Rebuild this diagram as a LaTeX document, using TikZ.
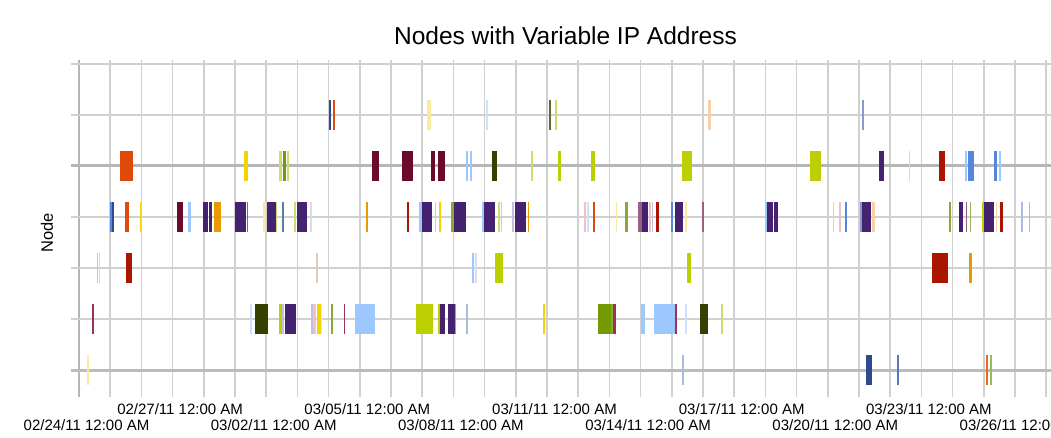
\documentclass[tikz,border=0pt]{standalone}
\usepackage{fontspec}
\setmainfont{Liberation Sans}
\usepackage{xcolor}
\usepackage{tikz}

\definecolor{gridgray}{HTML}{D0D0D0}
\definecolor{axisgray}{HTML}{B6B6B6}
\definecolor{cblue}{HTML}{5588DD}
\definecolor{cnavy}{HTML}{2B4A90}
\definecolor{cmid}{HTML}{5577BB}
\definecolor{csoft}{HTML}{AABBDD}
\definecolor{corange}{HTML}{DD4A0A}
\definecolor{ctang}{HTML}{EE6622}
\definecolor{cyellow}{HTML}{F2D400}
\definecolor{cpaleyel}{HTML}{F8EBA0}
\definecolor{cmaroon}{HTML}{6B0A2A}
\definecolor{cwine}{HTML}{993355}
\definecolor{cskyblue}{HTML}{9CC8FF}
\definecolor{cpaleblue}{HTML}{CCE0FF}
\definecolor{cpurple}{HTML}{452270}
\definecolor{clavender}{HTML}{C8BCE0}
\definecolor{camber}{HTML}{E89A00}
\definecolor{cpalegreen}{HTML}{CCDC70}
\definecolor{cgreen}{HTML}{739A00}
\definecolor{cleaf}{HTML}{88AA33}
\definecolor{csage}{HTML}{99BB55}
\definecolor{colive}{HTML}{354000}
\definecolor{colivel}{HTML}{5A6A33}
\definecolor{clime}{HTML}{BCCF00}
\definecolor{cred}{HTML}{AA1500}
\definecolor{cmauve}{HTML}{996080}
\definecolor{cpink}{HTML}{F0C0C8}
\definecolor{cpeach}{HTML}{F8D0A8}
\definecolor{cbeige}{HTML}{DDCCBB}
\definecolor{cslate}{HTML}{8899CC}
\definecolor{csteel}{HTML}{5A7FA0}
\definecolor{csilver}{HTML}{DCDCE4}

\begin{document}
\begin{tikzpicture}[x=1pt, y=-1pt,
			gridline/.style={draw=gridgray, line width=1.5pt},
			rowline/.style={draw=gridgray, line width=2pt},
			axisline/.style={draw=axisgray, line width=3pt},
			ticklabel/.style={font=\fontsize{15}{18}\selectfont, anchor=base}]

			\useasboundingbox (0,0) rectangle (1051,438);

			\foreach \k in {0,...,31}
				\draw[gridline] ({79+31.2*\k},60) -- ({79+31.2*\k},397);
			\draw[draw=axisgray, line width=2pt] (79,60) -- (79,397);
			\foreach \j in {0,1,3,4,5}
				\draw[rowline] (71,{64+50.95*\j}) -- (1051,{64+50.95*\j});
			\draw[axisline] (71,166) -- (1051,166);
			\draw[axisline, draw=gridgray!90!black] (71,370) -- (1051,370);

			\foreach \xa/\xb/\c in {329.3/331/cnavy, 332.7/334.7/corange, 427.3/431/cpaleyel, 486.3/487.7/cpaleblue,
				548.7/551/colivel, 555/556.7/cpalegreen, 707.7/711/cpeach, 861.7/863.7/cslate}
				\fill[\c] (\xa,100) rectangle (\xb,130);

			\foreach \xa/\xb/\c in {120.3/127.5/corange, 128.3/133.3/corange, 244/248/cyellow, 279.3/282/cpalegreen,
				283.3/286/cgreen, 287/289/cpalegreen, 372.3/378.7/cmaroon, 402/413/cmaroon, 431.3/435.3/cmaroon,
				437.7/445.3/cmaroon, 465.7/467.7/cskyblue, 470/472/cskyblue, 492.3/497.3/colive, 531/533/cpalegreen,
				558/561/clime, 591.3/595/clime, 681.7/692.3/clime, 810.3/821/clime, 878.7/883.7/cpurple, 909/910/cpeach,
				939/945.3/cred, 965.3/967/cskyblue, 968/974.3/cblue, 994/997.3/cblue, 998.7/1001.3/cskyblue}
				\fill[\c] (\xa,151) rectangle (\xb,181);

			\foreach \xa/\xb/\c in {110/111.5/cblue, 112.3/114/cnavy, 125.3/129/corange, 140/141.3/cyellow,
				176.7/177.3/cpalegreen, 177.3/183/cmaroon, 188/191/cskyblue, 203.3/208/cpurple, 209.3/212/cpurple,
				213.7/220.7/camber, 234.7/245.7/cpurple, 246.7/248.3/corange, 263.3/265.7/cpaleyel, 266.7/276.3/cpurple,
				276.3/277.3/cpalegreen, 281.7/284/csteel, 294/296.3/cpalegreen, 296.7/306.7/cpurple, 310/312/csilver,
				366/367.7/camber, 407/409.3/cred, 419.3/421.7/cskyblue, 422.3/432.3/cpurple, 435.3/436.3/cpink,
				438.7/441/cyellow, 451.3/454/cleaf, 454/466/cpurple, 481.7/484.3/cskyblue, 484.3/495/cpurple,
				498.3/500/cpalegreen, 500.7/502/cpalegreen, 512.3/514/clavender, 515.3/525.7/cpurple, 527.7/529/camber,
				584/586/cpink, 587/588.7/cpaleblue, 592.7/595.3/corange, 616/617/cpaleyel, 625.3/627.7/cleaf,
				638.3/641.7/cmauve, 641.7/647.7/cpurple, 649.3/651.3/cpink, 652/653.3/clavender, 656/659/cred,
				670.7/672.7/cblue, 674.7/682.7/cpurple, 685.3/687.3/cpaleyel, 702/704/cmauve, 765.3/767.7/cskyblue,
				767.3/772.7/cpurple, 774.3/777.7/cpurple, 833/834.3/cpeach, 839.3/841.3/cpink, 845/847/cblue,
				860/862.3/cslate, 862.3/870.7/cpurple, 871.7/875/cpeach, 949.3/951/cleaf, 958.7/963.3/cpurple,
				965.7/967.3/cmauve, 970/971.3/csage, 981.7/984/clime, 984/994/cpurple, 995.7/997.3/cpeach,
				1000/1003.3/cred, 1021/1022.7/csoft, 1028.7/1030.3/csoft}
				\fill[\c] (\xa,202) rectangle (\xb,232);

			\foreach \xa/\xb/\c in {96.7/98.3/clavender, 98.7/100/cpeach, 126.3/131.7/cred, 315.7/317.7/cbeige,
				471.7/474.3/cskyblue, 475.3/476.7/csilver, 495/502.7/clime, 687.3/690.7/clime, 932/948.3/cred,
				968.7/972/camber}
				\fill[\c] (\xa,253) rectangle (\xb,283);

			\foreach \xa/\xb/\c in {92/94.3/cwine, 250/251.7/cpaleblue, 254.7/267.7/colive, 279.3/281.7/clime,
				282/283.5/clavender, 285/295.7/cpurple, 311/313.3/clavender, 313.3/316/cpink, 316.7/321/cyellow,
				321/322.3/cpaleyel, 330.7/332.7/cleaf, 344/345.3/cwine, 355/375.3/cskyblue, 416.3/432.7/clime,
				438.3/439.7/clime, 440.3/445/cpurple, 447.7/454.7/cpurple, 454.7/456/camber, 466/467.7/csoft,
				543.3/545.3/cyellow, 598/610.7/cgreen, 610.7/613.3/cleaf, 613.3/615.7/cwine, 641.3/645/cskyblue,
				654/676/cskyblue, 675.3/677/cwine, 685.3/687.3/cpaleblue, 700/707.7/colive, 720.7/723.3/cpalegreen}
				\fill[\c] (\xa,304) rectangle (\xb,334);

			\foreach \xa/\xb/\c in {87.3/89/cpaleyel, 681.7/683.7/csoft, 866/872.3/cnavy, 897.3/899.3/cmid,
				986/987.7/ctang, 989.7/992/csage}
				\fill[\c] (\xa,355) rectangle (\xb,385);

			\node[font=\fontsize{24.5}{28}\selectfont, anchor=base] (title) at (565.5,45) {Nodes with Variable IP Address};
			\node[font=\fontsize{16.5}{20}\selectfont, rotate=90] (ylabel) at (47,233) {Node};

			\foreach \k/\m/\d in {3/02/27, 9/03/05, 15/03/11, 21/03/17, 27/03/23}
				\node[ticklabel] (lbl\k) at ({79+31.2*\k+7.5},414) {\m/\d/11 12:00 AM};
			\foreach \k/\m/\d in {0/02/24, 6/03/02, 12/03/08, 18/03/14, 24/03/20, 30/03/26}
				\node[ticklabel] (lbl\k) at ({79+31.2*\k+7.5},430.7) {\m/\d/11 12:00 AM};
		\end{tikzpicture}
\end{document}
